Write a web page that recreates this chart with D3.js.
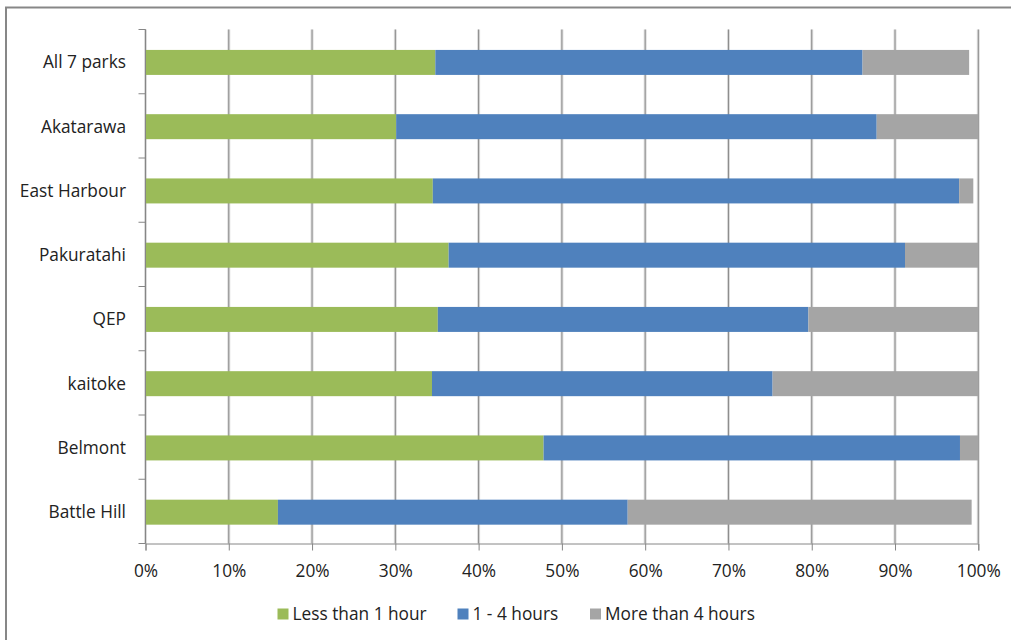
<!DOCTYPE html>
<html>
<head>
<meta charset="utf-8">
<script src="https://cdn.jsdelivr.net/npm/d3@7"></script>
<style>
  html, body { margin: 0; padding: 0; background: #ffffff; }
  svg { display: block; }
  text { font-family: "Open Sans", "Noto Sans", sans-serif; fill: #222; }
</style>
</head>
<body>
<svg id="chart" width="1011" height="640"></svg>
<script>
// Time spent per visit, share of visitors by park
const parks = ["All 7 parks", "Akatarawa", "East Harbour", "Pakuratahi", "QEP", "kaitoke", "Belmont", "Battle Hill"];
const seriesNames = ["Less than 1 hour", "1 - 4 hours", "More than 4 hours"];
const lessThan1 = [34.8, 30.1, 34.5, 36.4, 35.1, 34.4, 47.8, 15.9];
const oneToFour = [51.3, 57.7, 63.2, 54.8, 44.5, 40.9, 50.0, 42.0];
const moreThan4 = [12.8, 12.2, 1.7, 8.8, 20.4, 24.7, 2.2, 41.3];
const xTicks = [0, 10, 20, 30, 40, 50, 60, 70, 80, 90, 100];
const colors = ["#9BBB59", "#4F81BD", "#A5A5A5"];

const rows = parks.map((p, i) => ({
  park: p,
  "Less than 1 hour": lessThan1[i],
  "1 - 4 hours": oneToFour[i],
  "More than 4 hours": moreThan4[i]
}));

const svg = d3.select("#chart");
const plotLeft = 145.5, plotRight = 978.3, plotTop = 29.5, plotBottom = 543.5;
const fontSize = 17.3;

// outer chart border
svg.append("rect")
  .attr("x", 6).attr("y", 7.5).attr("width", 1020).attr("height", 650)
  .attr("fill", "none").attr("stroke", "#878787").attr("stroke-width", 2);

const x = d3.scaleLinear().domain([0, 100]).range([plotLeft, plotRight]);
const y = d3.scaleBand().domain(parks).range([plotTop + 0.8, plotBottom + 0.8])
  .paddingInner(0.611).paddingOuter(0.3055);

// vertical gridlines
const grid = svg.append("g");
xTicks.forEach(t => {
  grid.append("line")
    .attr("x1", x(t)).attr("x2", x(t)).attr("y1", plotTop).attr("y2", plotBottom)
    .attr("stroke", "#dcdcdc").attr("stroke-width", 3);
  grid.append("line")
    .attr("x1", x(t)).attr("x2", x(t)).attr("y1", plotTop).attr("y2", plotBottom)
    .attr("stroke", "#8a8a8a").attr("stroke-width", 1);
});

// stacked bars
const stack = d3.stack().keys(seriesNames);
const layers = stack(rows);
svg.append("g").selectAll("g")
  .data(layers)
  .join("g")
  .attr("fill", (d, i) => colors[i])
  .selectAll("rect")
  .data(d => d)
  .join("rect")
  .attr("x", d => x(d[0]))
  .attr("width", d => x(d[1]) - x(d[0]))
  .attr("y", d => y(d.data.park))
  .attr("height", y.bandwidth());

// category axis: line, boundary ticks, labels
const yAxis = svg.append("g");
yAxis.append("line")
  .attr("x1", plotLeft).attr("x2", plotLeft).attr("y1", plotTop).attr("y2", plotBottom)
  .attr("stroke", "#868686").attr("stroke-width", 1);
d3.range(parks.length + 1).forEach(i => {
  const yy = plotTop + i * (plotBottom - plotTop) / parks.length;
  yAxis.append("line")
    .attr("x1", plotLeft - 7).attr("x2", plotLeft).attr("y1", yy).attr("y2", yy)
    .attr("stroke", "#868686").attr("stroke-width", 1);
});
yAxis.selectAll("text.cat")
  .data(parks)
  .join("text")
  .attr("class", "cat")
  .attr("x", 126)
  .attr("y", d => y(d) + y.bandwidth() / 2)
  .attr("dy", "0.35em")
  .attr("text-anchor", "end")
  .attr("font-size", fontSize)
  .text(d => d);

// value axis
const xAxis = svg.append("g").attr("transform", `translate(0,${plotBottom})`)
  .call(d3.axisBottom(x).tickValues(xTicks).tickFormat(d => d + "%").tickSize(7).tickPadding(14));
xAxis.select(".domain").attr("stroke", "#868686");
xAxis.selectAll(".tick line").attr("stroke", "#868686");
xAxis.selectAll(".tick text")
  .attr("font-size", fontSize)
  .attr("font-family", "'Open Sans', sans-serif")
  .attr("fill", "#222");

// legend
const legendX = [277.5, 457.5, 590];
const legend = svg.append("g");
seriesNames.forEach((name, i) => {
  legend.append("rect")
    .attr("x", legendX[i]).attr("y", 608.5).attr("width", 11).attr("height", 11)
    .attr("fill", colors[i]);
  legend.append("text")
    .attr("x", legendX[i] + 15).attr("y", 614)
    .attr("dy", "0.35em")
    .attr("font-size", fontSize)
    .text(name);
});
</script>
</body>
</html>
